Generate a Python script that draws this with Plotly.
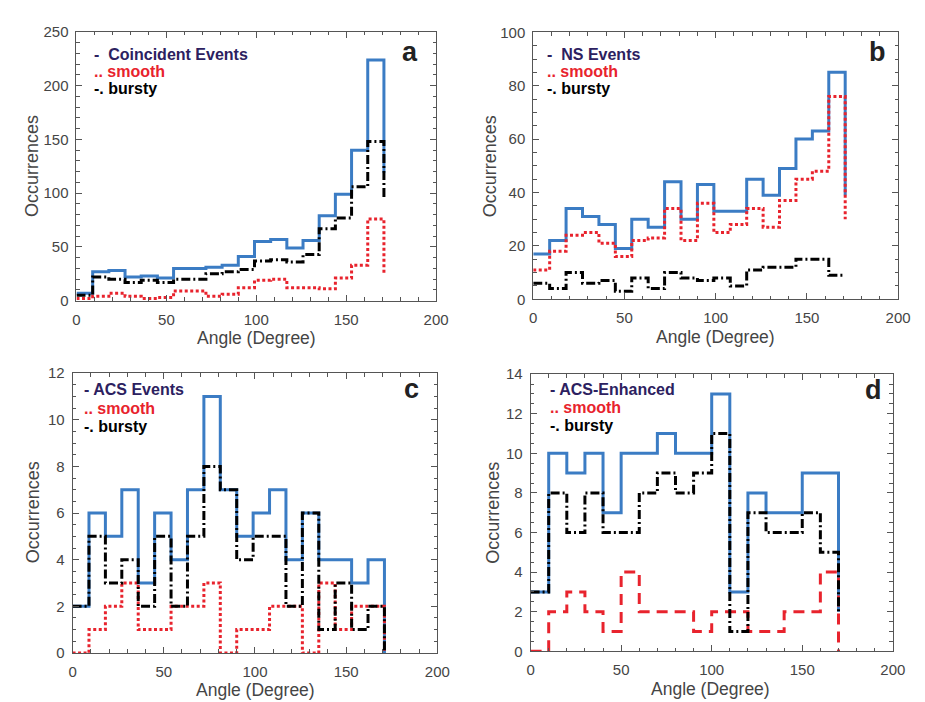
import plotly.graph_objects as go

# bin start angles (degrees); the last entry is where each step line ends
angles_9 = [0, 9, 18, 27, 36, 45, 54, 63, 72, 81, 90, 99, 108, 117, 126, 135, 144, 153, 162, 171]
angles_10 = [0, 10, 20, 30, 40, 50, 60, 70, 80, 90, 100, 110, 120, 130, 140, 150, 160, 170]

# panel a: coincident events
total_a = [7, 27, 28, 22, 23, 21, 30, 30, 31, 33, 41, 55, 57, 49, 56, 79, 99, 140, 224, 119]
smooth_a = [2, 4, 7, 4, 2, 3, 9, 9, 4, 6, 12, 19, 20, 12, 12, 11, 21, 33, 76, 25]
bursty_a = [5, 22, 20, 17, 19, 17, 20, 20, 25, 27, 29, 37, 38, 36, 43, 67, 77, 106, 148, 95]

# panel b: NS events
total_b = [17, 22, 34, 31, 28, 19, 30, 27, 44, 30, 43, 33, 33, 45, 39, 49, 60, 63, 85, 39]
smooth_b = [11, 18, 24, 25, 21, 16, 22, 23, 34, 22, 36, 25, 28, 34, 27, 37, 45, 48, 76, 30]
bursty_b = [6, 4, 10, 6, 7, 3, 8, 4, 10, 8, 7, 8, 5, 11, 12, 12, 15, 15, 9, 9]

# panel c: ACS events
total_c = [2, 6, 5, 7, 3, 6, 4, 7, 11, 7, 5, 6, 7, 4, 6, 4, 4, 3, 4, 0]
smooth_c = [0, 1, 2, 3, 1, 1, 2, 2, 3, 0, 1, 1, 2, 2, 0, 3, 1, 2, 2, 0]
bursty_c = [2, 5, 3, 4, 2, 5, 2, 5, 8, 7, 4, 5, 5, 2, 6, 1, 3, 1, 2, 0]

# panel d: ACS-enhanced
total_d = [3, 10, 9, 10, 7, 10, 10, 11, 10, 10, 13, 3, 8, 7, 7, 9, 9, 2]
smooth_d = [0, 2, 3, 2, 1, 4, 2, 2, 2, 1, 2, 2, 1, 1, 2, 2, 4, 0]
bursty_d = [3, 8, 6, 8, 6, 6, 8, 9, 8, 9, 11, 1, 7, 6, 6, 7, 5, 2]

panel_letters = ["a", "b", "c", "d"]
event_labels = ["Coincident Events", "NS Events", "ACS Events", "ACS-Enhanced"]
y_max = [250, 100, 12, 14]
y_major = [50, 20, 2, 2]
y_minor = [10, 5, 0.5, 0.5]

W, H = 925, 702
BLUE = "#3b7cc4"
RED = "#e8232d"
NAVY = "#2c2160"
AXC = "#555555"
TXT = "#454545"
FONT = "Liberation Sans, Arial, sans-serif"


def px(x):
    # page pixel -> paper fraction
    return x / W


def py(y):
    return 1 - y / H


# plot frames in pixels: left, right, top, bottom
frames = [(65.7, 432.0, 15.3, 290.7),
          (531.0, 902.7, 15.7, 289.3),
          (61.7, 433.3, 365.0, 651.7),
          (528.3, 897.3, 366.0, 650.0)]

series = [
    (angles_9, total_a, smooth_a, bursty_a),
    (angles_9, total_b, smooth_b, bursty_b),
    (angles_9, total_c, smooth_c, bursty_c),
    (angles_10, total_d, smooth_d, bursty_d),
]

fig = go.Figure()

for i, (xs, tot, smo, bur) in enumerate(series):
    xa = "x" if i == 0 else "x%d" % (i + 1)
    ya = "y" if i == 0 else "y%d" % (i + 1)
    smooth_dash = "11px,7px" if i == 3 else "3px,2.5px"
    fig.add_trace(go.Scatter(x=xs, y=tot, mode="lines", line_shape="hv",
                             line=dict(color=BLUE, width=3),
                             xaxis=xa, yaxis=ya, showlegend=False))
    fig.add_trace(go.Scatter(x=xs, y=smo, mode="lines", line_shape="hv",
                             line=dict(color=RED, width=3, dash=smooth_dash),
                             xaxis=xa, yaxis=ya, showlegend=False))
    fig.add_trace(go.Scatter(x=xs, y=bur, mode="lines", line_shape="hv",
                             line=dict(color="black", width=3, dash="9px,3px,2px,3px"),
                             xaxis=xa, yaxis=ya, showlegend=False))

axis_common = dict(showline=True, linecolor=AXC, linewidth=1, mirror="allticks",
                   ticks="inside", ticklen=6, tickcolor=AXC, showgrid=False,
                   zeroline=False, tickfont=dict(size=15, color=TXT, family=FONT))

layout = {}
annotations = []
legend_pos = [(81, 38.5, 17.5), (543, 38.5, 17.5), (71, 382, 19), (546, 382, 18.5)]
letter_pos = [(405.5, 36), (881.7, 36), (406.7, 381), (878, 382.5)]
ytitle_pos = [(21, 153), (487, 153), (21, 508), (490, 508)]
xtitle_pos = [(249, 329), (717, 328), (248, 690), (712, 689)]

for i in range(4):
    l, r, t, b = frames[i]
    sx = "" if i == 0 else str(i + 1)
    layout["xaxis" + sx] = dict(axis_common, domain=[px(l), px(r)], range=[0, 200],
                                dtick=50, tick0=0, anchor="y" + sx,
                                ticklabelstandoff=5,
                                minor=dict(ticks="inside", ticklen=3.5, tickcolor=AXC,
                                           dtick=10, showgrid=False))
    layout["yaxis" + sx] = dict(axis_common, domain=[py(b), py(t)], range=[0, y_max[i]],
                                dtick=y_major[i], tick0=0, anchor="x" + sx,
                                ticklabelstandoff=4,
                                minor=dict(ticks="inside", ticklen=3.5, tickcolor=AXC,
                                           dtick=y_minor[i], showgrid=False))

    lx, ly, dy = legend_pos[i]
    first = ("-\u00a0 " if i < 2 else "- ") + event_labels[i]
    for k, (txt, col) in enumerate([(first, NAVY), (".. smooth", RED), ("-. bursty", "black")]):
        annotations.append(dict(x=px(lx), y=py(ly + k * dy), xref="paper", yref="paper",
                                text="<b>%s</b>" % txt, showarrow=False,
                                xanchor="left", yanchor="middle",
                                font=dict(size=16, color=col, family=FONT)))
    annotations.append(dict(x=px(letter_pos[i][0]), y=py(letter_pos[i][1]),
                            xref="paper", yref="paper", text="<b>%s</b>" % panel_letters[i],
                            showarrow=False, xanchor="center", yanchor="middle",
                            font=dict(size=27, color="#222222", family=FONT)))
    annotations.append(dict(x=px(ytitle_pos[i][0]), y=py(ytitle_pos[i][1]),
                            xref="paper", yref="paper", text="Occurrences", textangle=-90,
                            showarrow=False, xanchor="center", yanchor="middle",
                            font=dict(size=18, color=TXT, family=FONT)))
    annotations.append(dict(x=px(xtitle_pos[i][0]), y=py(xtitle_pos[i][1]),
                            xref="paper", yref="paper", text="Angle (Degree)",
                            showarrow=False, xanchor="center", yanchor="middle",
                            font=dict(size=17.5, color=TXT, family=FONT)))

fig.update_layout(width=W, height=H, margin=dict(l=0, r=0, t=0, b=0),
                  paper_bgcolor="white", plot_bgcolor="white",
                  font=dict(family=FONT), annotations=annotations, **layout)

fig.write_html("out.html")
